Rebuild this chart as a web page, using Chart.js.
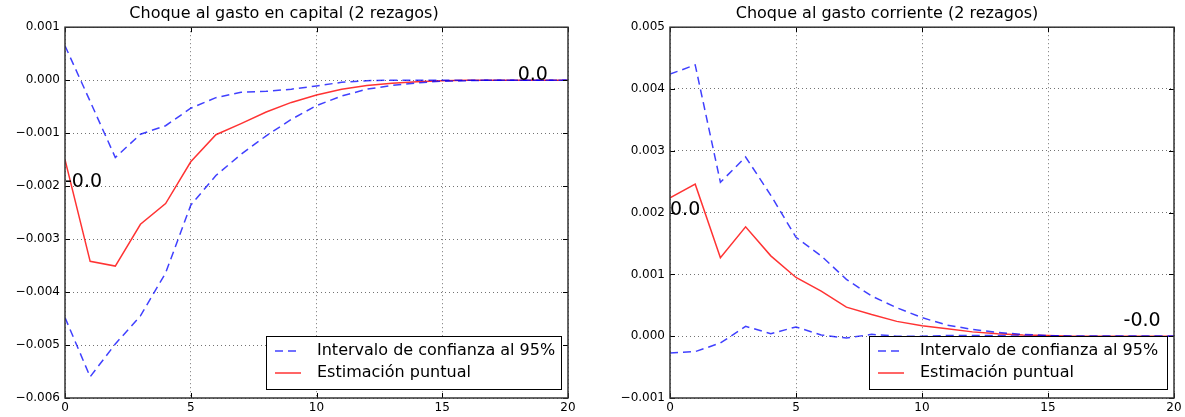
<!DOCTYPE html>
<html>
<head>
<meta charset="utf-8">
<script src="https://cdn.jsdelivr.net/npm/chart.js@4.4.1/dist/chart.umd.min.js"></script>
<style>
  body { margin: 0; background: #fff; }
  .wrap { position: absolute; top: 0; height: 417px; }
</style>
</head>
<body>
<div class="wrap" style="left:0; width:600px;"><canvas id="capital"></canvas></div>
<div class="wrap" style="left:600px; width:585px;"><canvas id="corriente"></canvas></div>
<script>
// horizons 0..20
const periods = [0,1,2,3,4,5,6,7,8,9,10,11,12,13,14,15,16,17,18,19,20];

// Choque al gasto en capital
const capPoint = [-0.0015,-0.00342,-0.00351,-0.00272,-0.00233,-0.00154,-0.00103,-0.00082,-0.0006,-0.00042,-0.00028,-0.00017,-0.0001,-0.00006,-0.00003,-0.00001,0,0,0,0,0];
const capUpper = [0.00065,-0.0004,-0.00146,-0.00102,-0.00086,-0.00053,-0.00033,-0.00023,-0.00021,-0.00017,-0.00011,-0.00004,-0.00001,0,0,0,0,0,0,0,0];
const capLower = [-0.00448,-0.0056,-0.00498,-0.00445,-0.00364,-0.00236,-0.0018,-0.0014,-0.00105,-0.00074,-0.00048,-0.0003,-0.00017,-0.0001,-0.00005,-0.00002,-0.00001,0,0,0,0];

// Choque al gasto corriente
const corPoint = [0.00224,0.00246,0.00127,0.00177,0.0013,0.00095,0.00073,0.00047,0.00035,0.00024,0.00017,0.00012,0.00007,0.00004,0.00002,0.00001,0,0,0,0,0];
const corUpper = [0.00424,0.00439,0.00249,0.0029,0.00228,0.0016,0.0013,0.00092,0.00065,0.00046,0.0003,0.00018,0.00011,0.00006,0.00003,0.00001,0,0,0,0,0];
const corLower = [-0.00027,-0.00025,-0.00011,0.00016,0.00004,0.00015,0.00002,-0.00003,0.00003,0,0,0.00001,0.00001,0.00001,0,0,0,0,0,0,0];

const seriesNames = ["Intervalo de confianza al 95%", "Estimación puntual"];

const FONT = "'DejaVu Sans', sans-serif";
const BLUE = "rgba(0,0,255,0.75)";
const RED = "rgba(255,0,0,0.8)";

const extras = {
  id: "extras",
  afterDatasetsDraw(chart, args, opts) {
    const ctx = chart.ctx;
    const a = chart.chartArea;
    const xs = chart.scales.x, ys = chart.scales.y;
    ctx.save();
    // text annotations
    ctx.fillStyle = "#000";
    ctx.font = "19px " + FONT;
    ctx.textBaseline = "alphabetic";
    ctx.textAlign = "left";
    (opts.notes || []).forEach(n => {
      ctx.fillText(n.text, xs.getPixelForValue(n.x), ys.getPixelForValue(n.y));
    });
    // inward ticks on all four sides
    ctx.strokeStyle = "#000";
    ctx.lineWidth = 1;
    ctx.beginPath();
    xs.ticks.forEach(t => {
      const px = Math.round(xs.getPixelForValue(t.value)) + 0.5;
      ctx.moveTo(px, a.bottom); ctx.lineTo(px, a.bottom - 5);
      ctx.moveTo(px, a.top); ctx.lineTo(px, a.top + 5);
    });
    ys.ticks.forEach(t => {
      const py = Math.round(ys.getPixelForValue(t.value)) + 0.5;
      ctx.moveTo(a.left, py); ctx.lineTo(a.left + 5, py);
      ctx.moveTo(a.right, py); ctx.lineTo(a.right - 5, py);
    });
    ctx.stroke();
    // legend box, lower right
    const w = opts.boxWidth, h = 53;
    const bx = a.right - 7 - w, by = a.bottom - 9 - h;
    ctx.fillStyle = "#fff";
    ctx.fillRect(bx, by, w, h);
    ctx.strokeStyle = "#000";
    ctx.lineWidth = 1;
    ctx.strokeRect(bx + 0.5, by + 0.5, w, h);
    ctx.font = "16px " + FONT;
    ctx.textBaseline = "middle";
    const rows = [
      { color: BLUE, dash: [8, 5], label: seriesNames[0] },
      { color: RED, dash: [], label: seriesNames[1] }
    ];
    rows.forEach((r, i) => {
      const cy = by + 15 + i * 22;
      ctx.strokeStyle = r.color;
      ctx.lineWidth = 1.5;
      ctx.setLineDash(r.dash);
      ctx.beginPath();
      ctx.moveTo(bx + 9, cy);
      ctx.lineTo(bx + 35, cy);
      ctx.stroke();
      ctx.setLineDash([]);
      ctx.fillStyle = "#000";
      ctx.fillText(r.label, bx + 51, cy);
    });
    // frame
    ctx.strokeStyle = "#333";
    ctx.lineWidth = 1.5;
    ctx.strokeRect(a.left, a.top, a.right - a.left, a.bottom - a.top);
    ctx.restore();
  }
};

function pts(vals) {
  return periods.map((p, i) => ({ x: p, y: vals[i] }));
}

function fmt(v) {
  const s = Math.abs(v) < 1e-9 ? "0.000" : v.toFixed(3);
  return s.replace("-", "\u2212");
}

function makeChart(id, title, point, upper, lower, yMin, yMax, yWidth, padRight, notes, boxWidth) {
  return new Chart(document.getElementById(id), {
    type: "line",
    data: {
      datasets: [
        { label: seriesNames[0], data: pts(upper), borderColor: BLUE, borderWidth: 1.5, borderDash: [8, 5], pointRadius: 0, tension: 0 },
        { label: seriesNames[0], data: pts(lower), borderColor: BLUE, borderWidth: 1.5, borderDash: [8, 5], pointRadius: 0, tension: 0 },
        { label: seriesNames[1], data: pts(point), borderColor: RED, borderWidth: 1.5, pointRadius: 0, tension: 0 }
      ]
    },
    options: {
      responsive: true,
      maintainAspectRatio: false,
      animation: false,
      layout: { padding: { left: 0, right: padRight, top: 0, bottom: 0 } },
      plugins: {
        legend: { display: false },
        tooltip: { enabled: false },
        title: {
          display: true, text: title, color: "#000",
          font: { family: FONT, size: 16, weight: "normal" },
          padding: { top: 4, bottom: 4 }
        },
        extras: { notes, boxWidth }
      },
      scales: {
        x: {
          type: "linear", min: 0, max: 20,
          ticks: { stepSize: 5, color: "#000", font: { family: FONT, size: 12 }, padding: 3 },
          grid: { color: "rgba(0,0,0,0.55)", drawTicks: false },
          border: { display: false, dash: [1, 3] },
          afterFit: s => { s.height = 19; }
        },
        y: {
          min: yMin, max: yMax,
          ticks: { stepSize: 0.001, color: "#000", font: { family: FONT, size: 12 }, padding: 5, callback: v => fmt(v) },
          grid: { color: "rgba(0,0,0,0.55)", drawTicks: false },
          border: { display: false, dash: [1, 3] },
          afterFit: s => { s.width = yWidth; }
        }
      }
    },
    plugins: [extras]
  });
}

makeChart("capital", "Choque al gasto en capital (2 rezagos)", capPoint, capUpper, capLower,
  -0.006, 0.001, 65, 32,
  [{ x: 18, y: 0, text: "0.0" }, { x: 0, y: -0.00202, text: "-0.0" }], 295);

makeChart("corriente", "Choque al gasto corriente (2 rezagos)", corPoint, corUpper, corLower,
  -0.001, 0.005, 70, 11,
  [{ x: 0, y: 0.00196, text: "0.0" }, { x: 18, y: 0.00016, text: "-0.0" }], 298);
</script>
</body>
</html>
